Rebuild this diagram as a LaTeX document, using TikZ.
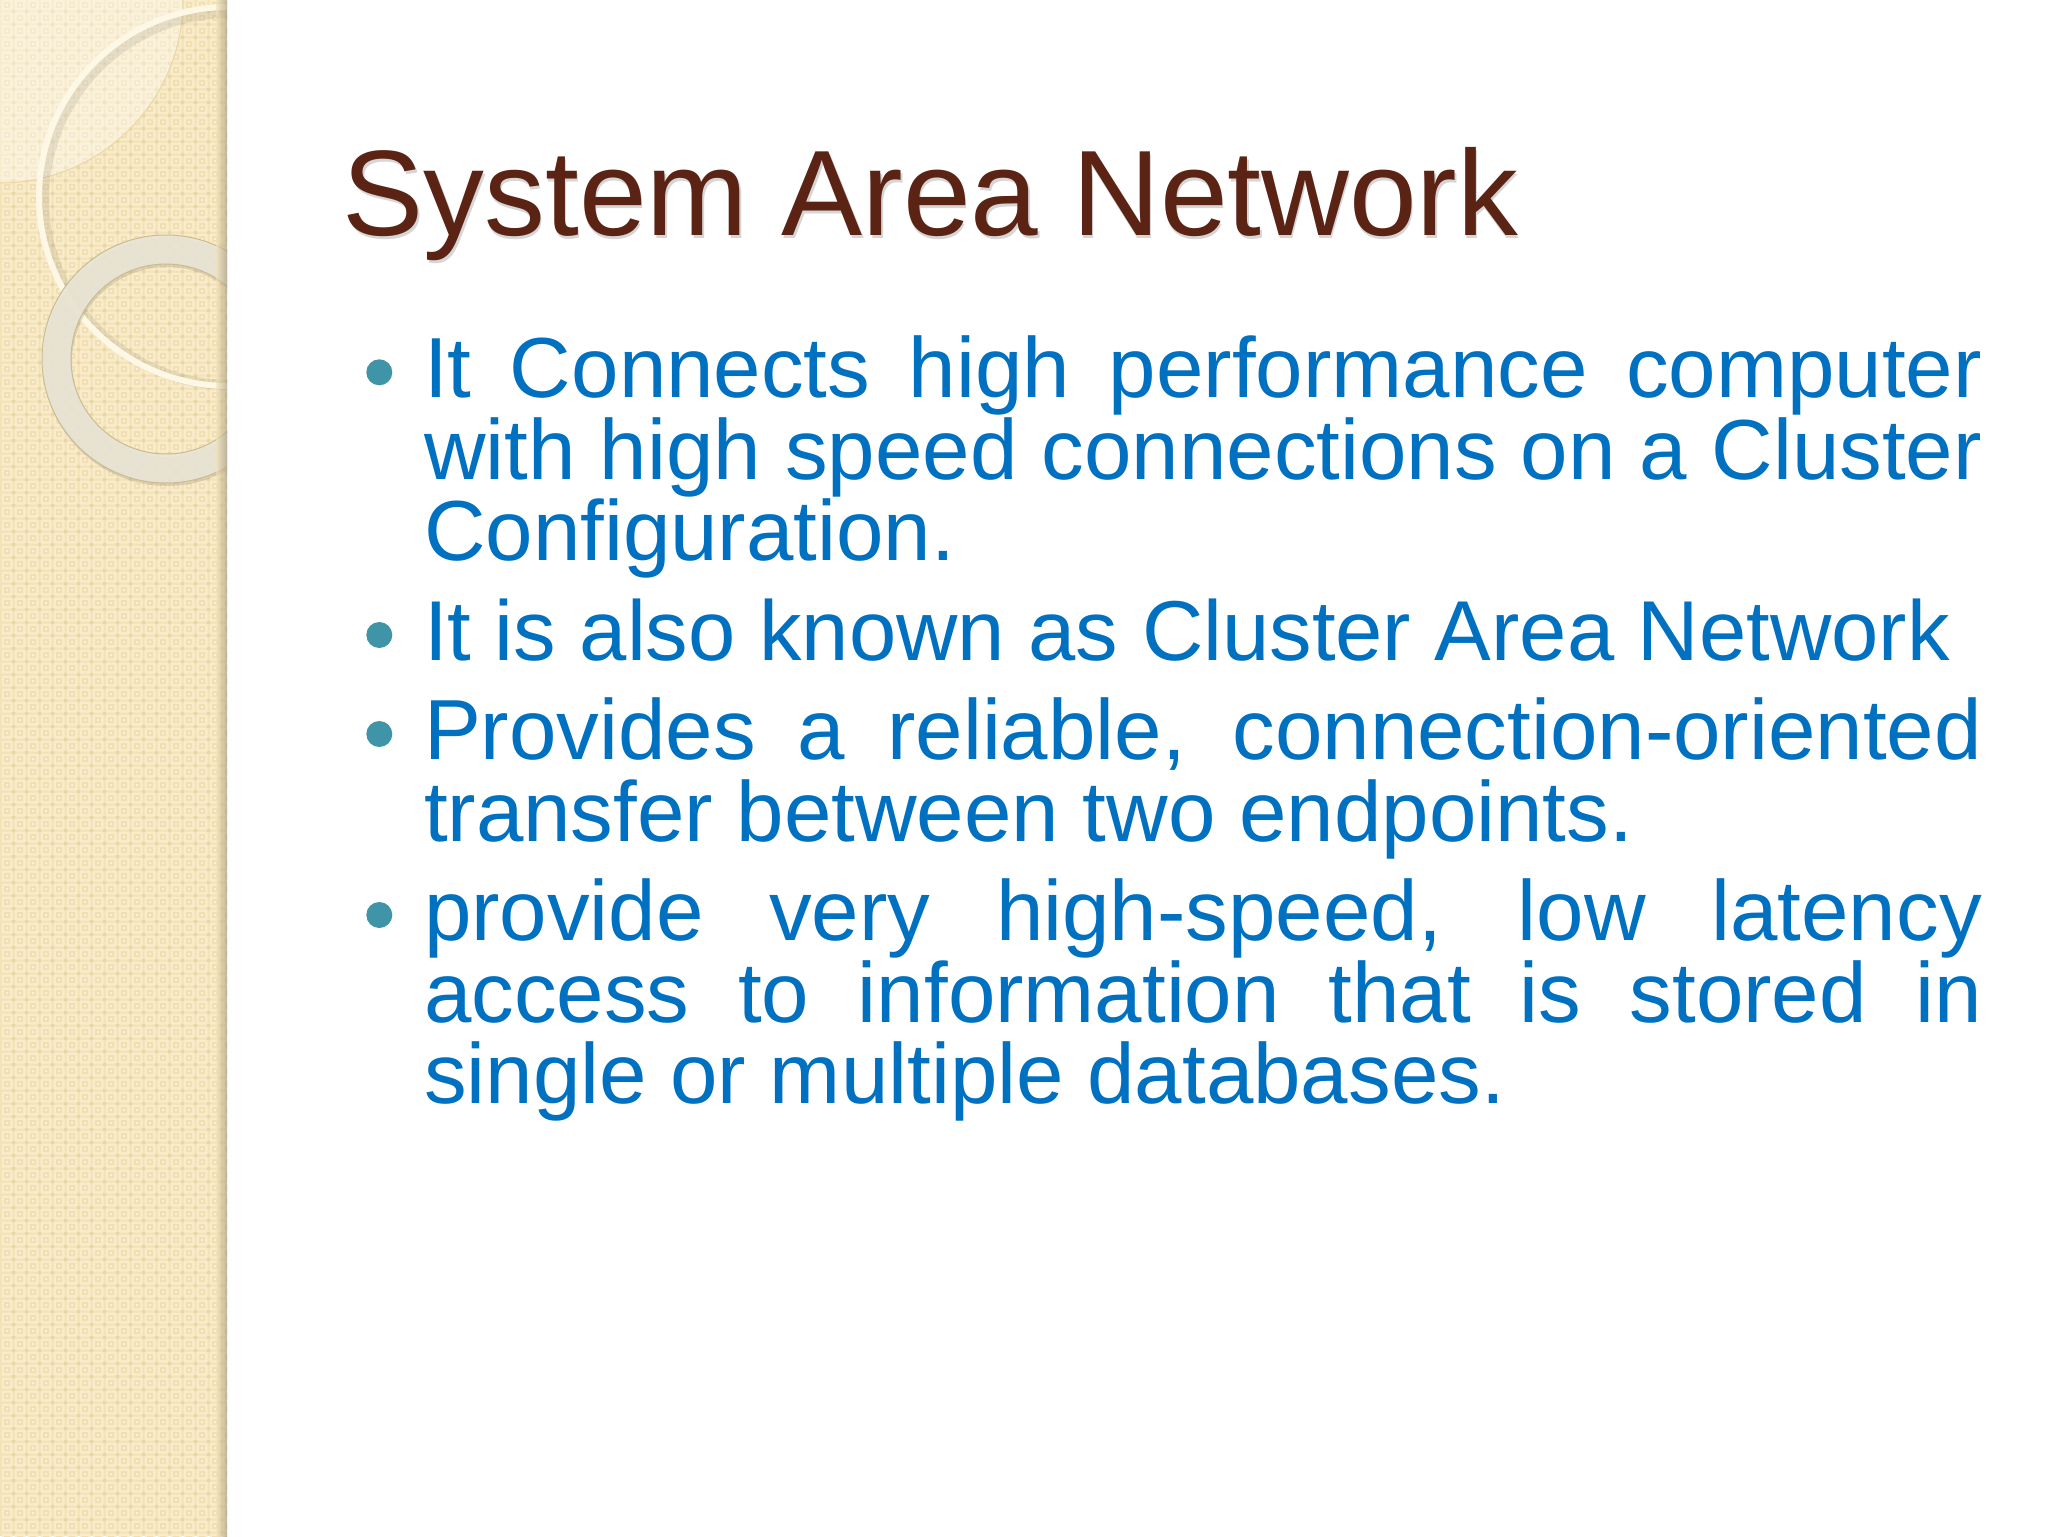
\documentclass[tikz,border=0pt]{standalone}
\usepackage{fontspec}
\setmainfont{Liberation Sans}
\usetikzlibrary{fadings,shadings}
\definecolor{panelbase}{HTML}{F3E2B8}
\definecolor{panellight}{HTML}{F9ECCA}
\definecolor{paneldark}{HTML}{E9D6A5}
\definecolor{panelmid}{HTML}{F1DFB3}
\definecolor{paneldot}{HTML}{FAF0D4}
\definecolor{titlecol}{HTML}{5B2314}
\definecolor{bodycol}{HTML}{0070C0}
\definecolor{bulletcol}{HTML}{3F94A8}
\definecolor{ringcol}{HTML}{E9E5D6}
\definecolor{ringedge}{HTML}{C9BC92}
\definecolor{bigring}{HTML}{FDF8E6}
\newlength{\fullw}\setlength{\fullw}{779pt}
\newcommand{\jline}[1]{\hbox to \fullw{\spaceskip=.278em plus 1fil\relax #1}}
\newcommand{\nline}[1]{\hbox{#1}}
\tikzset{
  px/.style={x=0.5pt,y=-0.5pt},
  bodytext/.style={anchor=base west,inner sep=0pt,outer sep=0pt,text=bodycol,
    font=\fontsize{42.65pt}{40.85pt}\selectfont},
  titletext/.style={anchor=base west,inner sep=0pt,outer sep=0pt,text=titlecol,
    font=\fontsize{60.8pt}{70pt}\selectfont},
  titleshadow/.style={titletext,text=black,opacity=.16},
  bulletdot/.style={circle,fill=bulletcol,minimum size=13pt,inner sep=0pt},
}
\begin{document}
\begin{tikzpicture}[px]
\useasboundingbox (0,0) rectangle (2048,1536);
\fill[white] (0,0) rectangle (2048,1536);
% panel with tiled pattern
\begin{scope}
\clip (0,0) rectangle (227,1536);
\fill[panelbase] (0,0) rectangle (227,1536);
\fill[panellight] foreach \i in {0,...,17} { foreach \j in {0,...,118} {
  ({7+13*\i-5.5},{5+13*\j-5.5}) rectangle ({7+13*\i+5.5},{5+13*\j+5.5}) } };
\fill[panelmid] foreach \i in {0,...,17} { foreach \j in {0,...,118} {
  ({7+13*\i-3},{5+13*\j-3}) rectangle ({7+13*\i+3},{5+13*\j+3}) } };
\fill[paneldot] foreach \i in {0,...,17} { foreach \j in {0,...,118} {
  ({7+13*\i-1},{5+13*\j-1}) rectangle ({7+13*\i+1},{5+13*\j+1}) } };
\fill[paneldark] foreach \i in {0,...,17} { foreach \j in {0,...,118} {
  ({7+13*\i+5},{5+13*\j+5}) rectangle ({7+13*\i+8},{5+13*\j+8}) } };
% translucent quarter disc
\fill[white,opacity=.35] (0,0) -- (183,0) arc[start angle=0,end angle=90,radius=183] -- cycle;
\draw[paneldark,line width=.5pt] (183,0) arc[start angle=0,end angle=90,radius=183];
% large thin ring
\draw[black!60!panelbase,opacity=.13,line width=5] (230,199) circle[radius=186];
\fill[bigring,even odd rule] (228.5,196.5) circle[radius=192.5] (228.5,196.5) circle[radius=186.5];
% small ring
\fill[black!60!panelbase,opacity=.18,even odd rule] (167,362) circle[radius=124] (167,362) circle[radius=95];
\fill[ringcol,opacity=.9,even odd rule] (166,359) circle[radius=124] (166,359) circle[radius=95];
\draw[ringedge,line width=.5pt] (166,359) circle[radius=124] (166,359) circle[radius=95];
% right edge darkening
\shade[left color=black!0!panelbase,right color=black!35!panelbase,opacity=.6] (216,0) rectangle (227,1536);
\end{scope}
% title
\node[titleshadow] (titleshade) at (344,238) {System Area Network};
\node[titletext] (title) at (342.5,235) {System Area Network};
% bullets
\node[bulletdot] (b1) at (379.3,372.3) {};
\node[bulletdot] (b2) at (379.3,635) {};
\node[bulletdot] (b3) at (379.3,734) {};
\node[bulletdot] (b4) at (379.3,915) {};
% body
\node[bodytext] (t1) at (424,560.7) {\vbox{\baselineskip=40.85pt
  \jline{It Connects high performance computer}
  \jline{with high speed connections on a Cluster}
  \nline{Configuration.}}};
\node[bodytext,font=\fontsize{42.5pt}{40.85pt}\selectfont] (t2) at (424,660) {It is also known as Cluster Area Network};
\node[bodytext] (t3) at (424,841) {\vbox{\baselineskip=40.85pt
  \jline{Provides a reliable, connection-oriented}
  \nline{transfer between two endpoints.}}};
\node[bodytext] (t4) at (424,1103.8) {\vbox{\baselineskip=40.85pt
  \jline{provide very high-speed, low latency}
  \jline{access to information that is stored in}
  \nline{single or multiple databases.}}};
\end{tikzpicture}
\end{document}
